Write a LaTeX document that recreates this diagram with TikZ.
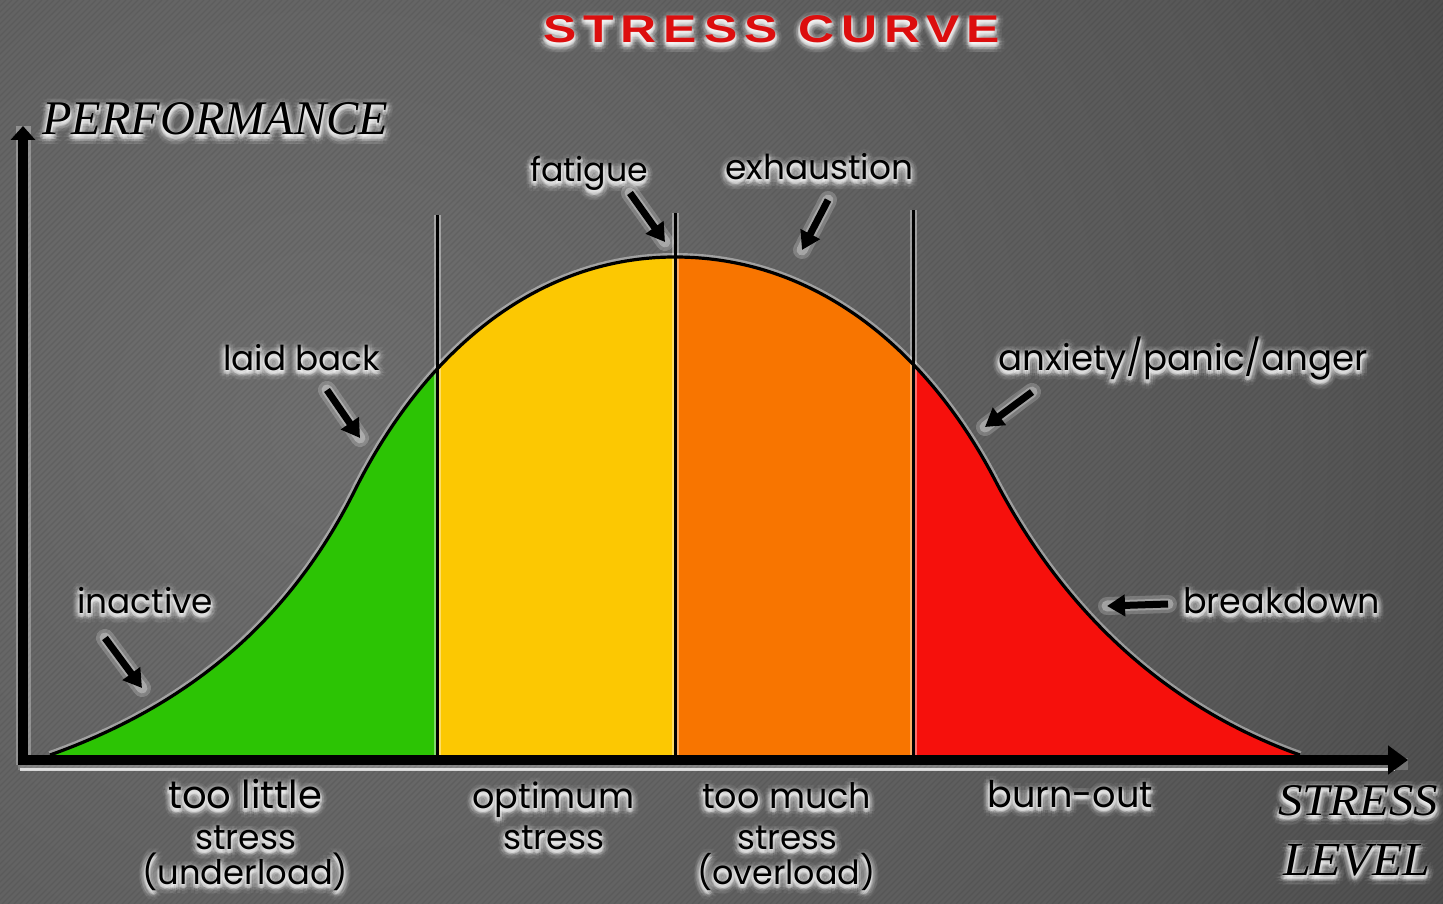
\documentclass[tikz,border=0pt]{standalone}
\usepackage{fontspec}
\usepackage{graphicx}
\setmainfont{Liberation Serif}
\newfontfamily\handfont{Poppins}
\newfontfamily\titlefont{Liberation Sans}[LetterSpace=14]
\usetikzlibrary{arrows.meta}

\definecolor{zonegreen}{RGB}{44,196,4}
\definecolor{zoneyellow}{RGB}{252,200,2}
\definecolor{zoneorange}{RGB}{248,117,0}
\definecolor{zonered}{RGB}{246,16,12}
\definecolor{titlered}{RGB}{220,14,14}
\definecolor{bgA}{RGB}{112,112,112}
\definecolor{bgB}{RGB}{88,88,88}
\definecolor{bgC}{RGB}{52,52,52}
\definecolor{bgD}{RGB}{46,46,46}

\pgfdeclareradialshading{backdrop}{\pgfpoint{0bp}{0bp}}%
  {color(0bp)=(bgA); color(16bp)=(bgB); color(31bp)=(bgC); color(50bp)=(bgD)}

% the bell curve of performance against stress
\def\curvepath{(50,755) .. controls (190,705) and (290,620) .. (355,490)
  .. controls (420,360) and (530,257) .. (675,257)
  .. controls (820,257) and (930,355) .. (995,480)
  .. controls (1060,605) and (1160,705) .. (1300,755)}

% text with a soft white halo, slightly dropped below the letters
\newcommand\glowtext[4]{%
  \foreach \gr/\go in {7/0.055,4.5/0.085,2/0.17}{%
    \foreach \ga in {0,30,...,330}{%
      \node[#3,text=white,text opacity=\go,
            xshift={\gr*cos(\ga)*1pt},yshift={\gr*sin(\ga)*1pt-3pt}] at (#2) {#4};%
    }%
  }%
  \node[#3] (#1) at (#2) {#4};%
}

\tikzset{
  lab/.style={inner sep=0pt, anchor=base west},
  halo/.style={white, opacity=0.4},
  axisline/.style={line width=10},
  pointer/.style={line width=7, -{Triangle[width=21pt,length=18pt]}},
  pointerglow/.style={white, opacity=0.2, line width=18, line cap=round},
  divider/.style={line width=3},
}

\begin{document}
\begin{tikzpicture}[x=1pt,y=-1pt]
\useasboundingbox (0,0) rectangle (1443,904);

% backdrop with fine diagonal grain
\begin{scope}
  \clip (0,0) rectangle (1443,904);
  \shade[shading=backdrop] (330,430) circle (1500);
  \foreach \i in {-904,-898,...,1443}
    \draw[black, opacity=0.08, line width=1.2] (\i,904) -- ({\i+904},0);
\end{scope}

% halo of the curve
\draw[halo, line width=8] \curvepath;

% coloured zones under the curve
\foreach \xa/\xb/\c in {0/437/zonegreen, 437/675/zoneyellow, 675/913/zoneorange, 913/1443/zonered}{
  \begin{scope}
    \clip (\xa,0) rectangle (\xb,760);
    \fill[\c] \curvepath -- cycle;
  \end{scope}
}

% zone dividers
\coordinate (d1t) at (437,215); \coordinate (d1b) at (437,757);
\coordinate (d2t) at (675,213); \coordinate (d2b) at (675,757);
\coordinate (d3t) at (913,210); \coordinate (d3b) at (913,757);
\foreach \p in {1,2,3}{
  \draw[halo, line width=7] (d\p t) -- (d\p b);
}
\foreach \p in {1,2,3}{
  \draw[divider] (d\p t) -- (d\p b);
}

\draw[black, line width=3.2] \curvepath;

% axes
\coordinate (origin) at (23,765);
\coordinate (xstart) at (18,760);
\coordinate (ytip) at (23,126);
\coordinate (xtip) at (1408,760);
\coordinate (hlA) at (20,769);
\coordinate (hlB) at (1395,769);
\draw[white, opacity=0.3, line width=15] (origin) -- (ytip);
\draw[white, opacity=0.2, line width=12] ([yshift=-4pt]xstart) -- ([yshift=-4pt]xtip);
\draw[white, opacity=0.75, line width=3] (hlA) -- (hlB);
\draw[axisline, -{Triangle[width=24pt,length=14pt]}] (origin) -- (ytip);
\draw[axisline, -{Triangle[width=28pt,length=20pt]}] (xstart) -- (xtip);

% pointers to the curve
\coordinate (pInA) at (105,638);  \coordinate (pInB) at (142,688);
\coordinate (pLbA) at (327,390);  \coordinate (pLbB) at (360,438);
\coordinate (pFaA) at (630,193);  \coordinate (pFaB) at (665,242);
\coordinate (pExA) at (828,200);  \coordinate (pExB) at (802,250);
\coordinate (pAnA) at (1032,392); \coordinate (pAnB) at (985,427);
\coordinate (pBrA) at (1168,604); \coordinate (pBrB) at (1107,606);
\foreach \p in {In,Lb,Fa,Ex,An,Br}{
  \draw[pointerglow] (p\p A) -- (p\p B);
  \draw[pointerglow, line width=11, opacity=0.3] (p\p A) -- (p\p B);
}
\foreach \p in {In,Lb,Fa,Ex,An,Br}{
  \draw[pointer] (p\p A) -- (p\p B);
}

% title and axis names
\glowtext{title}{543,43}{lab, text=titlered}{\resizebox{457pt}{27pt}{\titlefont\bfseries STRESS CURVE}}
\glowtext{perf}{42,135}{lab}{\resizebox{346pt}{32pt}{\itshape PERFORMANCE}}
\glowtext{stresslvlA}{1278,815}{lab}{\resizebox{160pt}{30pt}{\itshape STRESS}}
\glowtext{stresslvlB}{1283,875}{lab}{\resizebox{147pt}{31pt}{\itshape LEVEL}}

% labels along the curve
\glowtext{inactive}{77,613}{lab}{\resizebox{136pt}{!}{\handfont inactive}}
\glowtext{laidback}{223,370}{lab}{\resizebox{157pt}{!}{\handfont laid back}}
\glowtext{fatigue}{530,182}{lab}{\resizebox{118pt}{!}{\handfont fatigue}}
\glowtext{exhaustion}{725,180}{lab}{\resizebox{188pt}{!}{\handfont exhaustion}}
\glowtext{anxiety}{998,370}{lab}{\resizebox{370pt}{!}{\handfont anxiety/panic/anger}}
\glowtext{breakdown}{1183,613}{lab}{\resizebox{197pt}{!}{\handfont breakdown}}

% zone names under the axis
\glowtext{zA1}{168,808}{lab}{\resizebox{154pt}{!}{\handfont too little}}
\glowtext{zA2}{195,849}{lab}{\resizebox{101pt}{!}{\handfont stress}}
\glowtext{zA3}{142,884}{lab}{\resizebox{206pt}{!}{\handfont (underload)}}
\glowtext{zB1}{472,808}{lab}{\resizebox{162pt}{!}{\handfont optimum}}
\glowtext{zB2}{503,849}{lab}{\resizebox{101pt}{!}{\handfont stress}}
\glowtext{zC1}{702,808}{lab}{\resizebox{169pt}{!}{\handfont too much}}
\glowtext{zC2}{737,849}{lab}{\resizebox{100pt}{!}{\handfont stress}}
\glowtext{zC3}{697,884}{lab}{\resizebox{178pt}{!}{\handfont (overload)}}
\glowtext{zD1}{987,807}{lab}{\resizebox{166pt}{!}{\handfont burn-out}}
\end{tikzpicture}
\end{document}
